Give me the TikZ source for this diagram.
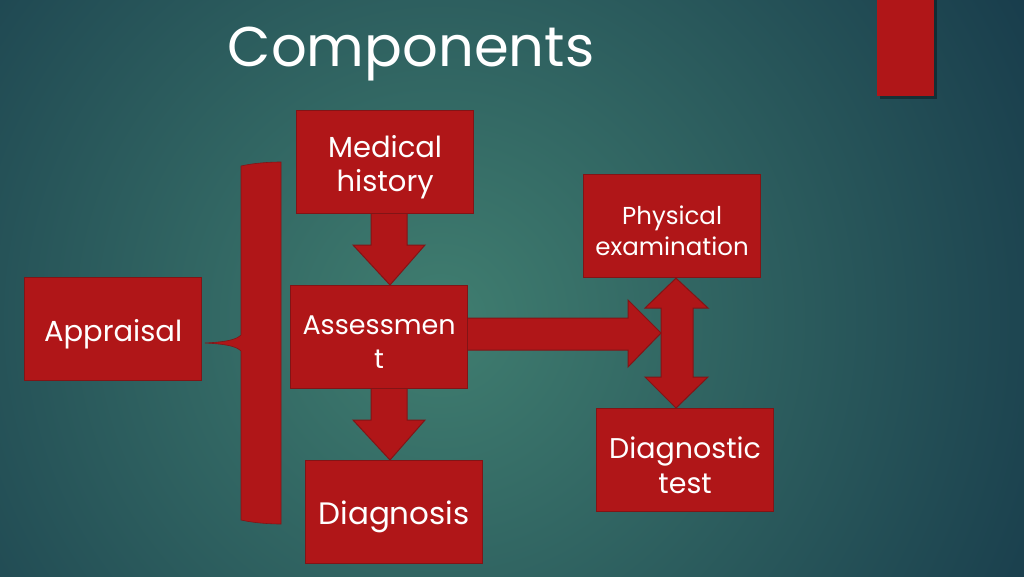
\documentclass[tikz,border=0pt]{standalone}
\usepackage{fontspec}
\setmainfont{Poppins}
\definecolor{boxred}{RGB}{176,22,24}
\definecolor{edgered}{RGB}{130,20,22}
\definecolor{bginner}{RGB}{64,126,112}
\definecolor{bgouter}{RGB}{18,50,70}
\begin{document}
\begin{tikzpicture}[x=1pt,y=-1pt,
  redbox/.style={fill=boxred,draw=edgered,line width=1.2pt,minimum width=177pt,minimum height=103pt,inner sep=0pt,anchor=north west},
  boxtext/.style={text=white,align=center,inner sep=0pt,yshift=-5pt},
  redshape/.style={fill=boxred,draw=edgered,line width=1pt,line join=miter}]
\useasboundingbox (0,0) rectangle (1024,576);
\begin{scope}
\clip (0,0) rectangle (1024,576);
\fill[bgouter] (0,0) rectangle (1024,576);
\shade[inner color=bginner,outer color=bgouter] (440,320) circle (780);
\end{scope}
% title
\node[text=white,font=\fontsize{56}{60}\selectfont] (title) at (411,54) {Components};
% top-right bar
\fill[black,opacity=0.35] (880,0) rectangle (937,99);
\fill[boxred] (877,0) rectangle (934,96);
\node[inner sep=0pt,minimum width=57pt,minimum height=96pt,anchor=north west] (tag) at (877,0) {};
% boxes
\node[redbox] (mh) at (296,110) {};
\node[redbox] (as) at (290,285) {};
\node[redbox] (ap) at (24,277) {};
\node[redbox] (dg) at (305,460) {};
\node[redbox] (pe) at (583,174) {};
\node[redbox] (dt) at (596,408) {};
\node[boxtext,font=\fontsize{29}{34}\selectfont] (mht) at (mh.center) {Medical\\history};
\node[boxtext,font=\fontsize{27}{34}\selectfont] (ast) at (as.center) {Assessmen\\t};
\node[boxtext,font=\fontsize{29}{34}\selectfont] (apt) at (ap.center) {Appraisal};
\node[boxtext,font=\fontsize{31}{34}\selectfont] (dgt) at (dg.center) {Diagnosis};
\node[boxtext,font=\fontsize{24.5}{31}\selectfont] (pet) at (pe.center) {Physical\\examination};
\node[boxtext,font=\fontsize{28.5}{35}\selectfont] (dtt) at (dt.center) {Diagnostic\\test};
% bracket
\coordinate (spk) at (205,343);
\draw[redshape,line width=0.6pt] (241,166) .. controls (254,163) and (270,162) .. (281,162)
  -- (281,524) .. controls (270,524) and (254,523) .. (241,520)
  -- (241,351) .. controls (236,346) and (225,344) .. (spk) .. controls (225,342) and (236,340) .. (241,335) -- cycle;
\node[inner sep=0pt,minimum width=40pt,minimum height=362pt,anchor=north west] (bar) at (241,162) {};
% arrow medical history -> assessment
\draw[redshape] (mh.south -| 371,0) -- (371,245) -- (353,245) -- (as.north -| 390,0) -- (425,245) -- (407,245) -- (mh.south -| 407,0);
% arrow assessment -> diagnosis
\draw[redshape] (as.south -| 371,0) -- (371,420) -- (353,420) -- (dg.north -| 390,0) -- (425,420) -- (407,420) -- (as.south -| 407,0);
% vertical double arrow
\draw[redshape] (pe.south -| 676,0) -- (708,308) -- (693,308) -- (693,377) -- (708,377) -- (dt.north -| 676,0) -- (645,377) -- (661,377) -- (661,308) -- (645,308) -- cycle;
% horizontal arrow
\coordinate (htip) at (661,333);
\draw[redshape] (as.east |- 0,318) -- (628,318) -- (628,300) -- (htip) -- (628,367) -- (628,350) -- (as.east |- 0,350);
\end{tikzpicture}
\end{document}
